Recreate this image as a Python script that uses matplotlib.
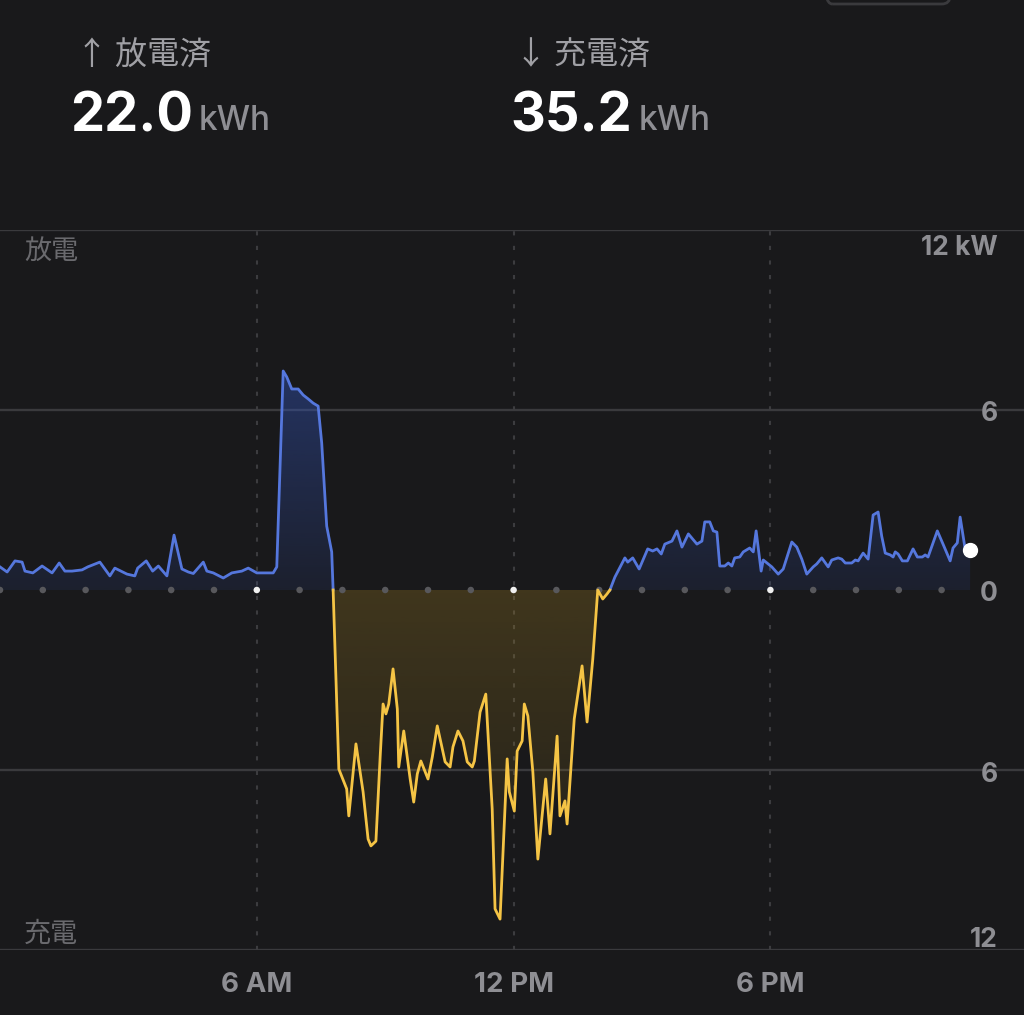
import numpy as np
import matplotlib.pyplot as plt
from matplotlib.path import Path
from matplotlib.patches import FancyBboxPatch

# battery power, minutes since midnight -> kW (+ discharge, - charge)
minutes = [0, 10, 21, 31, 35, 46, 59, 73, 83, 91, 101, 115, 123, 140, 154, 161, 178, 189, 193, 205,
           214, 222, 234, 244, 255, 264, 271, 285, 290, 299, 313, 325, 339, 348, 360, 383, 388, 397, 402, 409,
           418, 425, 432, 439, 446, 451, 458, 465, 467,
           475, 486, 489, 499, 509, 516, 520, 527, 533, 537, 541, 545, 551, 557, 559, 566, 575, 580, 585, 590,
           600, 606, 613, 624, 631, 635, 642, 649, 655, 662, 665, 673, 681, 690, 694, 701, 711, 714, 721, 725,
           732, 735, 740, 747, 754, 765, 771, 781, 785, 792, 795, 805, 816, 823, 831, 838, 845, 851, 855,
           862, 876, 880, 887, 896, 908, 915, 921, 927, 932, 942, 949, 956, 965, 977, 984, 988, 995, 1000, 1005,
           1009, 1016, 1021, 1026, 1030, 1037, 1042, 1051, 1056, 1060, 1067, 1070, 1082, 1091, 1098, 1110, 1117,
           1124, 1131, 1140, 1145, 1152, 1161, 1166, 1175, 1180, 1185, 1194, 1199, 1203, 1210, 1217, 1224, 1231,
           1236, 1241, 1248, 1252, 1255, 1259, 1265, 1272, 1280, 1286, 1293, 1297, 1301, 1314, 1322, 1332, 1336,
           1342, 1346, 1353, 1360]
power = [0.77, 0.6, 0.97, 0.93, 0.63, 0.57, 0.8, 0.57, 0.9, 0.63, 0.63, 0.67, 0.77, 0.93, 0.47, 0.73, 0.53, 0.47, 0.73, 0.97,
         0.63, 0.8, 0.47, 1.83, 0.7, 0.6, 0.55, 0.93, 0.63, 0.57, 0.4, 0.57, 0.63, 0.73, 0.57, 0.57, 0.77, 7.3, 7.1, 6.7,
         6.7, 6.5, 6.37, 6.23, 6.13, 4.9, 2.13, 1.27, 0.0,
         -5.97, -6.63, -7.53, -5.13, -6.73, -8.3, -8.53, -8.37, -5.53, -3.8, -4.13, -3.8, -2.63, -3.97, -5.9, -4.7, -6.3, -7.07, -6.13, -5.7,
         -6.3, -5.57, -4.53, -5.73, -5.9, -5.23, -4.7, -5.03, -5.73, -5.9, -5.7, -4.07, -3.47, -7.3, -10.63, -10.97, -5.63, -6.73, -7.37, -5.37,
         -5.03, -3.8, -4.2, -6.07, -8.97, -6.3, -8.13, -4.87, -7.53, -7.03, -7.8, -4.3, -2.53, -4.4, -2.3, 0.0, -0.3, -0.13, 0.0,
         0.43, 1.07, 0.93, 1.07, 0.7, 1.37, 1.3, 1.37, 1.2, 1.53, 1.63, 1.97, 1.43, 1.87, 1.53, 1.63, 2.27, 2.27, 1.97, 1.93,
         0.8, 0.8, 0.9, 0.8, 1.07, 1.1, 1.27, 1.4, 1.27, 1.97, 0.63, 1.0, 0.77, 0.53, 0.7, 1.6, 1.43,
         1.03, 0.53, 0.77, 0.87, 1.07, 0.77, 1.0, 1.07, 1.03, 0.9, 0.9, 1.0, 0.97, 1.23, 1.03, 2.5, 2.6,
         1.8, 1.23, 1.17, 1.1, 1.27, 1.2, 0.97, 0.97, 1.37, 1.1, 1.1, 1.17, 1.1, 1.97, 1.53, 0.97, 1.4,
         1.57, 2.43, 1.37, 1.33]

charge_start = 467
charge_end = 855

discharged_label = '↑ 放電済'
charged_label = '↓ 充電済'
discharged_total = '22.0'
charged_total = '35.2'
y_ticks = [12, 6, 0, -6, -12]
y_tick_labels = ['12 kW', '6', '0', '6', '12']
x_ticks = [360, 720, 1080]
x_tick_labels = ['6 AM', '12 PM', '6 PM']

bg = '#19191b'
blue = '#5577dd'
yellow = '#f5c445'
grid = '#3a3a3d'
cjk = ['Noto Sans CJK JP', 'DejaVu Sans']
lat = ['Inter', 'DejaVu Sans']

W, H = 1024, 1015
fig = plt.figure(figsize=(W/100, H/100), dpi=100, facecolor=bg)

def fx(x):
	return x/W
def fy(y):
	return 1 - y/H

# plot area: 230px (+12) to 950px (-12), one hour = 42.8px
ax = fig.add_axes([0, fy(950), 1, (950-230)/H])
ax.set_facecolor(bg)
ax.axis('off')

t = np.array(minutes, dtype=float)
p = np.array(power)

for yv in [12, 6, -6, -12]:
	ax.axhline(yv, color=grid, lw=1.7, zorder=1)
for xv in x_ticks:
	ax.axvline(xv, color='#3c3c3f', lw=1.5, linestyle=(0, (2, 5)), zorder=1)

# gradient fills under / over the line
def grad_fill(positive, color, a_hi, a_lo, y_hi, y_lo):
	where = p >= 0 if positive else p <= 0
	coll = ax.fill_between(t, p, 0, where=where, interpolate=True, facecolor='none', edgecolor='none')
	rgb = np.array(plt.matplotlib.colors.to_rgb(color))
	n = 256
	img = np.zeros((n, 1, 4))
	img[:, 0, :3] = rgb
	img[:, 0, 3] = np.linspace(a_hi, a_lo, n)
	im = ax.imshow(img, extent=[0, 1440, y_lo, y_hi], aspect='auto', origin='upper', zorder=2)
	path = Path.make_compound_path(*coll.get_paths())
	im.set_clip_path(path, ax.transData)

grad_fill(True, '#3355bb', 0.45, 0.12, 7.5, 0)
grad_fill(False, '#b08a20', 0.26, 0.04, 0, -11.2)

ax.set_xlim(0, W/42.8*60)
ax.set_ylim(-12, 12)

blue_p = np.ma.masked_where((t > charge_start) & (t < charge_end), p)
yel_p = np.ma.masked_where((t < charge_start) | (t > charge_end), p)
ax.plot(t, blue_p, color=blue, lw=2.0, zorder=4)
ax.plot(t, yel_p, color=yellow, lw=2.0, zorder=4)

# hour dots on the zero line
hours = np.arange(0, 23)*60
dot_col = ['#f0f0f0' if h in x_ticks else '#58585c' for h in hours]
ax.scatter(hours, np.zeros(len(hours)), s=22, c=dot_col, zorder=3, linewidths=0)

ax.plot(t[-1], p[-1], 'o', color='white', ms=10, zorder=5)

# right-hand scale labels
label_y = [248, 414, 594, 775, 940]
for lab, yy in zip(y_tick_labels, label_y):
	fig.text(fx(998), fy(yy), lab, ha='right', va='center', color='#8e8e93',
		fontsize=19, fontweight='bold', family=lat)
for lab, xv in zip(x_tick_labels, x_ticks):
	fig.text(fx(xv/60*42.8), fy(985), lab, ha='center', va='center', color='#8e8e93',
		fontsize=20, fontweight='bold', family=lat)

fig.text(fx(24), fy(251), '放電', ha='left', va='center', color='#6a6a6e', fontsize=19.5, family=cjk)
fig.text(fx(24), fy(934), '充電', ha='left', va='center', color='#6a6a6e', fontsize=19.5, family=cjk)

# header totals
fig.text(fx(76), fy(56), discharged_label, ha='left', va='center', color='#a0a0a5', fontsize=23, family=cjk)
fig.text(fx(515), fy(56), charged_label, ha='left', va='center', color='#a0a0a5', fontsize=23, family=cjk)
fig.text(fx(70), fy(132), discharged_total, ha='left', va='baseline', color='white', fontsize=39, fontweight='bold', family=lat)
fig.text(fx(199), fy(130), 'kWh', ha='left', va='baseline', color='#8e8e93', fontsize=24, fontweight='medium', family=lat)
fig.text(fx(510), fy(132), charged_total, ha='left', va='baseline', color='white', fontsize=39, fontweight='bold', family=lat)
fig.text(fx(639), fy(130), 'kWh', ha='left', va='baseline', color='#8e8e93', fontsize=24, fontweight='medium', family=lat)

# partial button at top edge
fig.patches.append(FancyBboxPatch((fx(824), fy(4)), (950-824)/W, 40/H, boxstyle='round,pad=0,rounding_size=0.008',
	transform=fig.transFigure, facecolor='none', edgecolor='#3a3a3d', lw=2))

plt.savefig('out.png', dpi=100, facecolor=bg)
